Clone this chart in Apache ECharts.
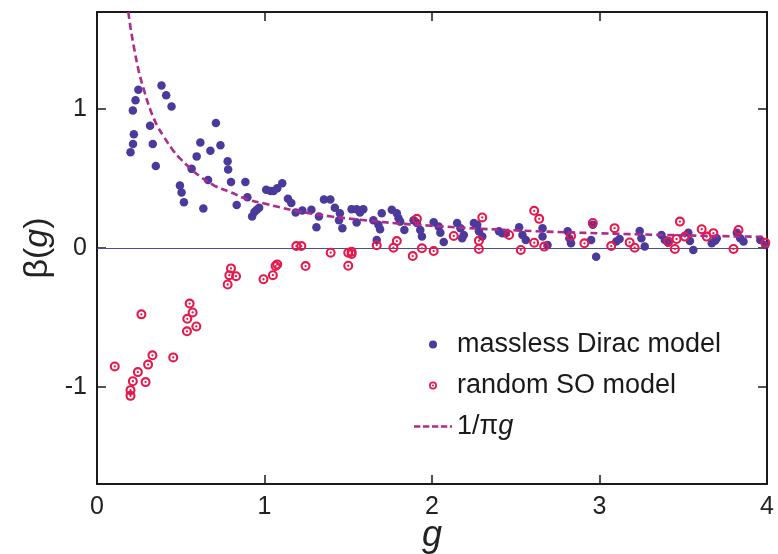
<!DOCTYPE html>
<html>
<head>
<meta charset="utf-8">
<script src="https://cdn.jsdelivr.net/npm/echarts@6/dist/echarts.min.js"></script>
<style>html,body{margin:0;padding:0;background:#fff}#c{width:778px;height:554px}</style>
</head>
<body>
<div id="c"></div>
<script>
// ---- data ----
const xTicks = [0, 1, 2, 3, 4];
const yTicks = [-1, 0, 1];

const diracPoints = [
  [0.247,1.14],[0.23,1.065],[0.214,0.99],[0.22,0.82],[0.215,0.75],[0.20,0.69],[0.385,1.17],[0.413,1.10],
  [0.445,1.02],[0.317,0.88],[0.333,0.75],[0.351,0.59],[0.495,0.45],[0.505,0.40],[0.519,0.33],[0.565,0.57],
  [0.595,0.66],[0.617,0.76],[0.635,0.285],[0.663,0.49],[0.677,0.70],[0.71,0.90],[0.737,0.74],[0.78,0.625],
  [0.783,0.565],[0.80,0.476],[0.886,0.476],[0.898,0.365],[0.834,0.31],[0.926,0.227],[0.94,0.26],[0.954,0.275],
  [0.968,0.29],[1.01,0.42],[1.036,0.41],[1.054,0.41],[1.076,0.43],[1.106,0.466],[1.14,0.355],[1.16,0.324],
  [1.186,0.256],[1.226,0.27],[1.28,0.275],[1.31,0.15],[1.325,0.227],[1.355,0.35],[1.393,0.35],[1.42,0.29],
  [1.45,0.25],[1.445,0.20],[1.465,0.143],[1.52,0.28],[1.55,0.28],[1.59,0.28],[1.57,0.256],[1.55,0.183],
  [1.65,0.20],[1.67,0.058],[1.68,0.167],[1.69,0.135],[1.70,0.25],[1.76,0.275],[1.79,0.25],[1.80,0.215],
  [1.81,0.19],[1.835,0.13],[1.89,0.20],[1.91,0.18],[1.93,0.13],[1.94,0.082],[2.01,0.186],[2.04,0.154],
  [2.05,0.11],[2.07,0.043],[2.15,0.18],[2.17,0.143],[2.18,0.07],[2.19,0.094],[2.25,0.18],[2.27,0.167],
  [2.28,0.12],[2.30,0.082],[2.40,0.12],[2.42,0.107],[2.44,0.107],[2.52,0.15],[2.54,0.094],[2.56,0.058],
  [2.66,0.143],[2.66,0.082],[2.69,0.022],[2.81,0.12],[2.82,0.07],[2.83,0.034],[2.96,0.167],[2.95,0.058],
  [2.98,-0.063],[3.10,0.046],[3.12,0.065],[3.24,0.123],[3.25,0.07],[3.27,0.01],[3.37,0.094],[3.39,0.058],
  [3.41,0.038],[3.53,0.11],[3.54,0.05],[3.56,-0.014],[3.67,0.034],[3.69,0.053],[3.70,0.07],[3.82,0.11],
  [3.84,0.07],[3.86,0.046],[3.96,0.058],[3.99,0.022]
];

const soPoints = [
  [1.91,0.21],[2.30,0.22],[1.19,0.014],[1.22,0.014],[1.245,-0.13],[1.395,-0.034],[1.50,-0.034],[1.52,-0.027],
  [1.52,-0.043],[1.50,-0.128],[1.67,0.02],[1.77,0.002],[1.79,0.05],[1.885,-0.058],[1.94,-0.002],[2.01,-0.022],
  [2.13,0.087],[2.28,0.053],[2.28,-0.007],[2.46,0.094],[2.53,-0.014],[2.61,0.268],[2.64,0.21],[2.61,0.038],
  [2.67,0.01],[2.83,0.087],[2.91,0.034],[2.96,0.18],[3.09,0.143],[3.07,0.014],[3.18,0.04],[3.21,0.002],
  [3.41,0.046],[3.45,-0.007],[3.46,0.065],[3.48,0.19],[3.51,0.082],[3.61,0.135],[3.64,0.082],[3.68,0.107],
  [3.80,-0.007],[3.83,0.13],[3.99,0.038],
  [0.80,-0.147],[0.79,-0.196],[0.83,-0.203],[0.78,-0.263],[1.076,-0.118],[1.066,-0.13],[1.05,-0.196],
  [0.994,-0.225],[0.265,-0.478],[0.553,-0.40],[0.571,-0.464],[0.539,-0.51],[0.593,-0.565],[0.537,-0.60],
  [0.106,-0.853],[0.331,-0.773],[0.305,-0.84],[0.455,-0.788],[0.244,-0.894],[0.214,-0.96],[0.29,-0.966],
  [0.20,-1.024],[0.20,-1.065]
];

// 1/(pi g) curve
const curvePoints = [
  [0.187,1.70],[0.2,1.59],[0.22,1.45],[0.25,1.27],[0.28,1.14],[0.32,0.99],[0.36,0.88],[0.4,0.80],
  [0.45,0.71],[0.5,0.64],[0.6,0.53],[0.7,0.45],[0.8,0.40],[0.9,0.35],[1.0,0.32],[1.2,0.265],
  [1.4,0.227],[1.6,0.20],[1.8,0.177],[2.0,0.16],[2.3,0.138],[2.6,0.122],[3.0,0.106],[3.5,0.091],[4.0,0.08]
];

const names = ['massless Dirac model', 'random SO model', '1/\u03C0g'];

// ---- chart ----
const FONT = '"Liberation Sans", Arial, Helvetica, sans-serif';
const ringPath = 'path://M10,0 A10,10 0 1,1 10,20 A10,10 0 1,1 10,0 Z M10,4.2 A5.8,5.8 0 1,0 10,15.8 A5.8,5.8 0 1,0 10,4.2 Z M10,7.7 A2.3,2.3 0 1,1 10,12.3 A2.3,2.3 0 1,1 10,7.7 Z';
const dashIcon = 'path://M0,0 H6 V2.6 H0 Z M8.5,0 H14.5 V2.6 H8.5 Z M17,0 H23 V2.6 H17 Z M25.5,0 H31.5 V2.6 H25.5 Z M34,0 H36 V2.6 H34 Z';
const frame = {show: true, onZero: false, lineStyle: {color: '#1a1a1a', width: 2}};
const tickStyle = {inside: true, length: 9, lineStyle: {color: '#1a1a1a', width: 1.5}};

const chart = echarts.init(document.getElementById('c'), null, {renderer: 'canvas'});
chart.setOption({
  animation: false,
  backgroundColor: '#ffffff',
  grid: {left: 97, right: 11, top: 12, bottom: 70, containLabel: false, outerBoundsMode: 'none'},
  legend: {
    orient: 'vertical', left: 409, top: 326, itemGap: 14,
    itemWidth: 38, itemHeight: 8,
    textStyle: {
      fontFamily: FONT, fontSize: 27, color: '#1a1a1a',
      rich: {
        n: {fontFamily: FONT, fontSize: 27, color: '#1a1a1a'},
        i: {fontFamily: FONT, fontSize: 27, fontStyle: 'italic', color: '#1a1a1a'}
      }
    },
    formatter: function (name) {
      return name === names[2] ? '{n|1/\u03C0}{i|g}' : name;
    },
    data: [
      {name: names[0]},
      {name: names[1]},
      {name: names[2], icon: dashIcon, itemStyle: {color: '#ad2a8e'}}
    ]
  },
  xAxis: [{
    type: 'value', min: 0, max: 4, position: 'bottom',
    axisLine: frame,
    axisTick: Object.assign({customValues: xTicks.slice(1, 4)}, tickStyle),
    axisLabel: {customValues: xTicks, fontFamily: FONT, fontSize: 25, color: '#222', margin: 11},
    splitLine: {show: false},
    name: '{i|g}', nameLocation: 'middle', nameGap: 34, nameMoveOverlap: false,
    nameTextStyle: {verticalAlign: 'top', rich: {i: {fontFamily: FONT, fontSize: 36, fontStyle: 'italic', color: '#222'}}}
  }, {
    type: 'value', min: 0, max: 4, position: 'top',
    axisLine: frame,
    axisTick: Object.assign({customValues: [1, 2, 3]}, tickStyle),
    axisLabel: {show: false}, splitLine: {show: false}
  }],
  yAxis: [{
    type: 'value', min: -1.7, max: 1.7, position: 'left',
    axisLine: frame,
    axisTick: Object.assign({customValues: yTicks}, tickStyle),
    axisLabel: {customValues: yTicks, fontFamily: FONT, fontSize: 25, color: '#222', margin: 10},
    splitLine: {show: false},
    name: '{a|\u03B2(}{i|g}{a|)}', nameLocation: 'middle', nameGap: 42, nameRotate: 90, nameMoveOverlap: false,
    nameTextStyle: {rich: {
      a: {fontFamily: FONT, fontSize: 34, color: '#222'},
      i: {fontFamily: FONT, fontSize: 34, fontStyle: 'italic', color: '#222'}
    }}
  }, {
    type: 'value', min: -1.7, max: 1.7, position: 'right',
    axisLine: frame,
    axisTick: Object.assign({customValues: yTicks}, tickStyle),
    axisLabel: {show: false}, splitLine: {show: false}
  }],
  series: [{
    name: names[0], type: 'scatter', xAxisIndex: 0, yAxisIndex: 0,
    symbol: 'circle', symbolSize: 8.5,
    itemStyle: {color: '#4b399c', opacity: 1},
    data: diracPoints,
    z: 3,
    markLine: {
      silent: true, symbol: 'none', label: {show: false},
      lineStyle: {color: '#4a4a96', width: 1, type: 'solid'},
      data: [{yAxis: 0}], z: 1
    }
  }, {
    name: names[1], type: 'scatter', xAxisIndex: 0, yAxisIndex: 0,
    symbol: ringPath, symbolSize: 10,
    itemStyle: {color: '#e5194b', opacity: 1},
    data: soPoints,
    z: 4
  }, {
    name: names[2], type: 'line', xAxisIndex: 0, yAxisIndex: 0,
    smooth: 0.4, showSymbol: false, symbol: 'none',
    lineStyle: {color: '#ad2a8e', width: 2.6, type: [7, 4]},
    itemStyle: {color: '#ad2a8e'},
    data: curvePoints,
    z: 5
  }]
});
</script>
</body>
</html>
